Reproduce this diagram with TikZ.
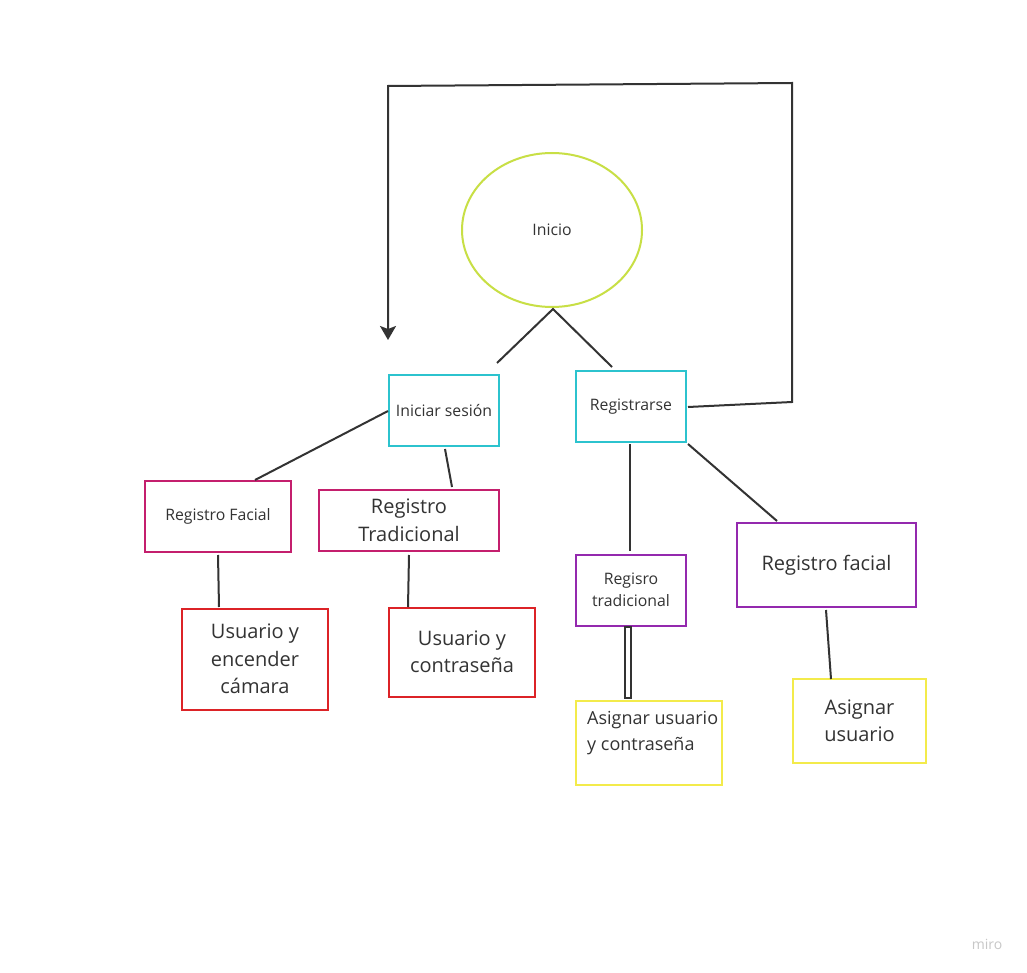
\documentclass[tikz,border=0pt]{standalone}
\usepackage{fontspec}
\setmainfont{Open Sans}
\usetikzlibrary{shapes.geometric,arrows.meta}
\definecolor{ink}{HTML}{333333}
\definecolor{lime}{HTML}{C8DF45}
\definecolor{cyanb}{HTML}{2CC3CE}
\definecolor{magb}{HTML}{C41F6D}
\definecolor{redb}{HTML}{DC2327}
\definecolor{purb}{HTML}{9429AE}
\definecolor{yelb}{HTML}{F3EB4B}
\tikzset{
  box/.style={draw, line width=2pt, inner sep=0pt, align=center, text=ink},
  small/.style={font=\fontsize{15.8}{22.5}\selectfont},
  big/.style={font=\fontsize{20}{27.5}\selectfont},
  mid/.style={font=\fontsize{18}{26}\selectfont},
  conn/.style={draw=ink, line width=2pt},
}
\begin{document}
\begin{tikzpicture}[x=1pt,y=-1pt]
\useasboundingbox[fill=white] (0,0) rectangle (1027,973);
% nodes
\node[box, ellipse, draw=lime, minimum width=180, minimum height=154, small] (inicio) at (552,230) {Inicio};
\node[box, draw=cyanb, minimum width=110, minimum height=71, small] (ini) at (444,410.5) {Iniciar sesión};
\node[box, draw=cyanb, minimum width=110, minimum height=71, small] (reg) at (631,406.5) {Registrarse};
\node[box, draw=magb, minimum width=146, minimum height=71, small] (rfa) at (218,516.5) {Registro Facial};
\node[box, draw=magb, minimum width=180, minimum height=61, big] (rtr) at (409,520.5) {Registro\\Tradicional};
\node[box, draw=redb, minimum width=146, minimum height=101, big] (uec) at (255,659) {Usuario y\\encender\\cámara};
\node[box, draw=redb, minimum width=146, minimum height=89, big] (uco) at (462,652) {Usuario y\\contraseña};
\node[box, draw=purb, minimum width=110, minimum height=71, small] (rtd) at (631,590) {Regisro\\tradicional};
\node[box, draw=purb, minimum width=179, minimum height=84, big] (rfc) at (826.5,565) {Registro facial};
\node[box, draw=yelb, minimum width=146, minimum height=84] (auc) at (649,743) {};
\node[align=left, text=ink, mid, anchor=north west, inner sep=0pt] (auct) at (587,711) {Asignar usuario\\y contraseña};
\node[box, draw=yelb, minimum width=133, minimum height=84, big] (aus) at (859.5,721) {Asignar\\usuario};
\node[text=black!22, font=\fontsize{14}{16}\selectfont] (miro) at (987,944) {miro};
% connector end points
\coordinate (top) at (553,309);
\coordinate (c1) at (497,363);
\coordinate (c2) at (612,367);
\coordinate (iw) at (388,411);
\coordinate (rfat) at (255,480);
\coordinate (is) at (445,449);
\coordinate (rtrt) at (452,487);
\coordinate (rfab) at (218,555);
\coordinate (uect) at (219,607);
\coordinate (rtrb) at (409,555);
\coordinate (ucot) at (408,607);
\coordinate (regb) at (630,444);
\coordinate (rtdt) at (630,551);
\coordinate (rege) at (688,444);
\coordinate (rfct) at (777,521);
\coordinate (rfcb) at (826,610);
\coordinate (aust) at (831,679);
\coordinate (dl1) at (625,627);
\coordinate (dl2) at (631,698);
\coordinate (fb1) at (688,407);
\coordinate (fb2) at (792,402);
\coordinate (fb3) at (792,83);
\coordinate (fb4) at (388,86);
\coordinate (fb5) at (388,340);
% connectors
\draw[conn] (c1) -- (top) -- (c2);
\draw[conn] (iw) -- (rfat);
\draw[conn] (is) -- (rtrt);
\draw[conn] (rfab) -- (uect);
\draw[conn] (rtrb) -- (ucot);
\draw[conn] (regb) -- (rtdt);
\draw[conn] (rege) -- (rfct);
\draw[conn] (rfcb) -- (aust);
\draw[draw=ink, line width=1.6pt] (dl1) rectangle (dl2);
\draw[conn, line join=miter, -{Stealth[length=14pt,width=16pt,inset=3pt]}] (fb1) -- (fb2) -- (fb3) -- (fb4) -- (fb5);
\end{tikzpicture}
\end{document}
